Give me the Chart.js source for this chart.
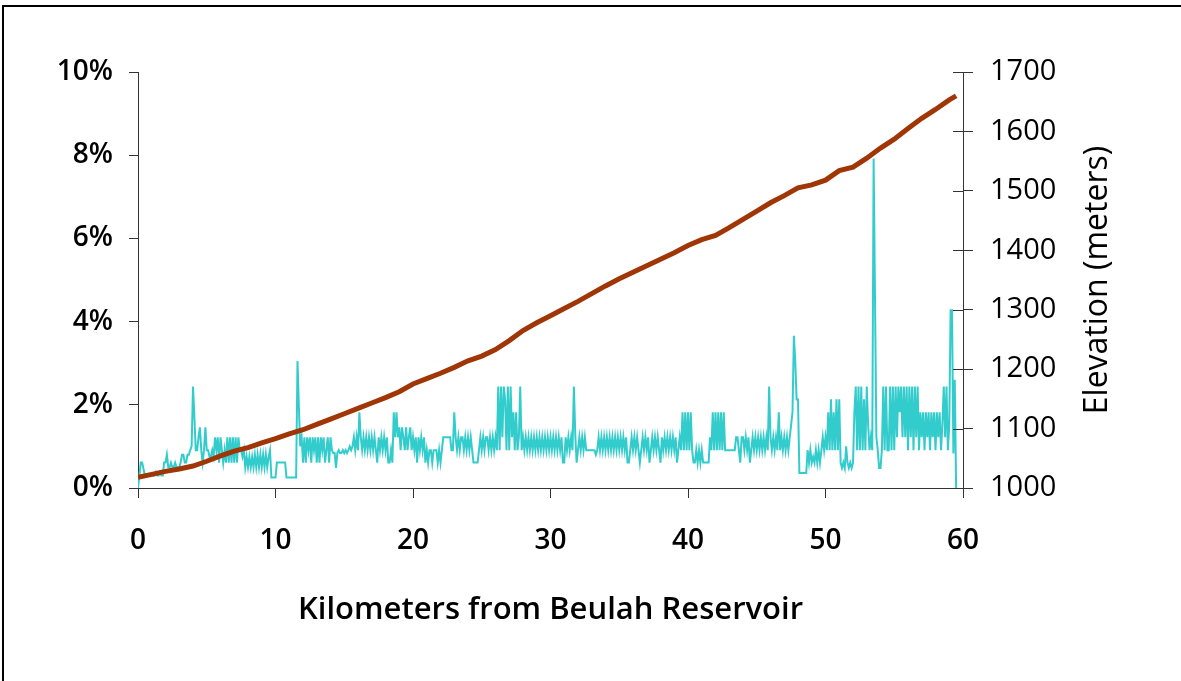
<!DOCTYPE html>
<html><head><meta charset="utf-8">
<script src="https://cdn.jsdelivr.net/npm/chart.js@4.4.1/dist/chart.umd.min.js"></script>
<style>
html,body{margin:0;padding:0;background:#fff;width:1181px;height:681px;overflow:hidden;}
#wrap{position:absolute;left:0;top:0;width:1181px;height:681px;}
#frame{position:absolute;left:2px;top:5px;width:1190px;height:700px;border-left:2px solid #000;border-top:2px solid #000;pointer-events:none;}
</style></head>
<body>
<div id="wrap"><canvas id="c" width="1181" height="681"></canvas></div>
<div id="frame"></div>
<script>
// Grade (%) sampled every 0.1 km, one row per kilometre
const gradeStepKm = 0.1;
const grade = [
 0.0,0.3,0.61,0.61,0.46,0.3,0.3,0.3,0.3,0.3,
 0.3,0.3,0.3,0.38,0.3,0.3,0.38,0.3,0.3,0.61,
 0.61,0.8,0.5,0.5,0.61,0.5,0.5,0.61,0.5,0.5,
 0.5,0.61,0.8,0.8,0.61,0.61,0.8,0.8,0.91,1.0,
 2.44,1.7,0.91,0.91,1.22,1.46,0.91,0.61,0.91,1.46,
 0.91,0.91,0.75,0.75,0.91,0.75,1.22,0.91,1.22,0.61,
 1.22,0.91,0.61,0.91,0.61,1.22,0.61,1.22,0.61,1.22,
 0.61,1.22,0.61,1.22,0.91,0.91,0.75,0.91,0.5,0.75,
 0.5,0.75,0.5,0.75,0.5,0.8,0.5,0.8,0.5,0.8,
 0.5,0.8,0.5,0.8,0.5,0.75,0.91,0.25,0.25,0.25,
 0.25,0.61,0.61,0.61,0.61,0.61,0.61,0.61,0.25,0.25,
 0.25,0.25,0.25,0.25,0.25,0.25,3.05,1.95,1.0,1.22,
 0.61,1.22,0.61,1.22,0.91,1.22,0.61,1.22,0.91,1.22,
 0.61,1.22,0.61,1.22,0.91,1.22,0.61,0.91,1.22,0.61,
 1.22,0.91,0.84,0.84,0.48,0.84,0.91,0.84,0.84,0.91,
 0.84,0.91,0.84,0.91,1.0,0.91,1.0,1.22,0.91,1.22,
 0.91,1.82,1.22,0.91,1.22,0.91,1.22,0.91,1.22,0.91,
 1.22,0.91,1.22,0.91,0.61,1.22,0.91,1.22,0.91,1.22,
 0.91,1.22,0.61,0.61,0.91,0.61,1.82,1.22,1.82,1.22,
 1.46,0.91,1.46,1.22,0.91,1.46,0.91,1.22,1.46,0.91,
 1.22,0.91,1.22,0.61,1.22,0.91,1.22,0.91,1.22,0.61,
 0.91,0.61,0.91,0.91,0.61,0.91,0.91,0.91,0.61,0.91,
 0.61,0.91,1.22,1.22,1.22,1.22,1.22,1.22,0.91,0.91,
 1.82,1.22,0.91,1.22,0.91,1.22,1.22,0.91,1.22,0.91,
 1.22,0.91,1.22,0.91,0.61,0.61,0.61,0.61,0.91,1.22,
 0.91,1.22,0.91,1.22,1.22,0.91,1.22,0.91,1.22,0.91,
 1.22,0.91,2.44,0.91,2.44,1.22,2.44,2.13,0.91,2.44,
 0.91,2.44,1.22,1.82,0.91,1.82,0.91,1.22,2.44,0.91,
 1.22,0.91,1.22,0.91,1.22,0.91,1.22,0.91,1.22,0.91,
 1.22,0.91,1.22,0.91,1.22,0.91,1.22,0.91,1.22,0.91,
 1.22,0.91,1.22,0.91,1.22,0.91,1.22,0.91,1.22,0.61,
 0.61,1.22,0.91,1.22,0.91,1.22,0.91,2.44,1.3,0.61,
 0.91,1.22,0.91,1.22,0.91,1.22,0.91,0.91,0.91,0.91,
 0.91,0.91,0.91,0.8,0.91,1.22,0.91,1.22,0.91,1.22,
 0.91,1.22,0.91,1.22,0.91,1.22,0.91,1.22,0.91,1.22,
 0.91,1.22,0.91,1.22,0.91,1.22,0.61,0.61,0.91,1.22,
 0.91,1.22,0.91,1.22,0.91,0.61,0.91,1.22,0.91,1.22,
 0.91,1.22,0.61,0.91,1.22,0.91,1.22,0.91,1.22,0.91,
 0.61,1.22,0.91,1.22,0.91,1.22,0.91,1.22,0.91,1.22,
 0.91,1.22,0.61,0.91,1.22,0.91,1.82,0.91,1.82,0.91,
 1.82,0.91,1.82,0.91,0.61,0.61,0.91,0.61,0.91,0.61,
 0.91,0.61,0.61,0.61,0.61,0.61,1.22,0.91,1.82,0.91,
 1.82,0.91,1.82,0.91,1.82,0.91,1.82,0.91,0.91,0.91,
 0.91,0.91,0.91,0.91,0.91,1.22,1.22,0.91,0.61,1.22,
 1.22,0.91,1.22,0.91,1.22,0.61,0.91,1.22,0.91,1.22,
 0.91,1.22,0.91,1.22,0.91,1.22,0.91,1.22,0.91,2.44,
 1.22,0.91,1.22,0.91,1.22,0.91,1.82,0.91,1.22,0.91,
 1.22,0.91,1.22,0.91,1.22,1.52,1.82,3.66,3.05,2.13,
 2.13,0.36,0.36,0.36,0.36,0.36,0.36,0.91,0.61,0.91,
 0.61,0.75,0.61,0.91,0.61,0.91,0.61,0.91,1.22,0.91,
 1.22,0.91,1.82,0.91,2.13,0.91,1.82,0.91,2.13,0.91,
 2.13,0.61,0.48,0.61,0.48,1.0,0.61,0.48,0.61,0.48,
 0.61,1.82,2.44,0.91,2.44,0.91,2.44,0.91,2.13,0.91,
 2.44,1.52,0.91,1.22,0.91,7.92,4.57,1.22,0.91,0.48,
 0.48,0.91,2.44,0.91,2.44,0.91,0.91,2.44,0.91,2.44,
 0.91,2.44,1.22,2.44,1.82,2.44,1.22,2.44,1.22,2.44,
 0.91,2.44,1.22,2.44,0.91,2.44,1.22,2.44,0.91,1.82,
 1.22,1.82,0.91,1.82,1.22,1.82,0.91,1.82,1.22,1.82,
 0.91,1.82,1.22,1.82,0.91,1.52,2.44,1.22,2.44,0.91,
 1.52,4.27,4.27,0.83,2.6,0.0
];

// Elevation (m) read at each kilometre
const elevKm = [0,1,2,3,4,5,6,7,8,9,10,11,12,13,14,15,16,17,18,19,20,21,22,23,24,25,26,27,28,29,30,31,32,33,34,35,36,37,38,39,40,41,42,43,44,45,46,47,48,49,50,51,52,53,54,55,56,57,58,59,59.5];
const elevation = [1018,1023,1028,1032,1037,1045,1054,1062,1068,1076,1083,1091,1098,1107,1116,1125,1134,1143,1152,1162,1175,1184,1193,1203,1214,1222,1233,1248,1265,1278,1290,1302,1314,1327,1340,1352,1363,1374,1385,1396,1408,1418,1425,1438,1452,1466,1480,1492,1505,1510,1518,1534,1540,1555,1572,1587,1605,1622,1637,1653,1660];

const xTicks = [0,10,20,30,40,50,60];
const gradeTicks = [0,2,4,6,8,10];
const elevTicks = [1000,1100,1200,1300,1400,1500,1600,1700];

const xTitle = 'Kilometers from Beulah Reservoir';
const elevTitle = 'Elevation (meters)';

const gradePts = grade.map((g, i) => ({x: Math.round(i * gradeStepKm * 10) / 10, y: g}));
const elevPts = elevKm.map((k, i) => ({x: k, y: elevation[i]}));

const AX = '#333333';
const extras = {
  id: 'extras',
  afterDraw(chart) {
    const ctx = chart.ctx, s = chart.scales.yE, a = chart.chartArea;
    ctx.save();
    ctx.strokeStyle = AX; ctx.lineWidth = 1;
    s.ticks.forEach(t => {
      const y = Math.round(s.getPixelForValue(t.value)) + 0.5;
      ctx.beginPath(); ctx.moveTo(a.right - 10, y); ctx.lineTo(a.right, y); ctx.stroke();
    });
    // right axis title, reading bottom-to-top
    ctx.translate(s.right - 83, (a.top + a.bottom) / 2);
    ctx.rotate(-Math.PI / 2);
    ctx.fillStyle = '#000';
    ctx.font = '400 32px "Open Sans"';
    ctx.textAlign = 'center';
    ctx.textBaseline = 'middle';
    ctx.fillText(elevTitle, 0, 0);
    ctx.restore();
  }
};

new Chart(document.getElementById('c'), {
  type: 'line',
  data: {
    datasets: [
      {label: 'Elevation', data: elevPts, yAxisID: 'yE', borderColor: '#a03505', borderWidth: 5, pointRadius: 0, tension: 0, order: 0},
      {label: 'Grade', data: gradePts, yAxisID: 'yG', borderColor: '#33cccc', borderWidth: 2, pointRadius: 0, tension: 0, order: 1}
    ]
  },
  options: {
    responsive: false,
    animation: false,
    events: [],
    layout: {padding: {top: 72, left: 0, right: 0, bottom: 0}},
    plugins: {legend: {display: false}, tooltip: {enabled: false}},
    scales: {
      x: {
        type: 'linear', min: 0, max: 60,
        afterBuildTicks: s => { s.ticks = xTicks.map(v => ({value: v})); },
        afterFit: s => { s.height = 193; },
        grid: {drawOnChartArea: false, tickLength: 10, color: AX},
        border: {display: true, color: AX, width: 1},
        ticks: {color: '#000', padding: 26, maxRotation: 0, font: {family: 'Open Sans', weight: '600', size: 28}},
        title: {display: true, text: xTitle, color: '#000', padding: {top: 0, bottom: 52}, font: {family: 'Open Sans', weight: '600', size: 31}}
      },
      yG: {
        type: 'linear', position: 'left', min: 0, max: 10,
        afterBuildTicks: s => { s.ticks = gradeTicks.map(v => ({value: v})); },
        afterFit: s => { s.width = 138; },
        grid: {drawOnChartArea: false, tickLength: 9, color: AX},
        border: {display: true, color: AX, width: 1},
        ticks: {color: '#000', padding: 16, callback: v => v + '%', font: {family: 'Open Sans', weight: '600', size: 28}}
      },
      yE: {
        type: 'linear', position: 'right', min: 1000, max: 1700,
        afterBuildTicks: s => { s.ticks = elevTicks.map(v => ({value: v})); },
        afterFit: s => { s.width = 218; },
        grid: {drawOnChartArea: false, tickLength: 10, color: AX},
        border: {display: true, color: AX, width: 1},
        ticks: {color: '#000', padding: 17, callback: v => String(v), font: {family: 'Open Sans', weight: '400', size: 29}}
      }
    }
  },
  plugins: [extras]
});
</script>
</body></html>
